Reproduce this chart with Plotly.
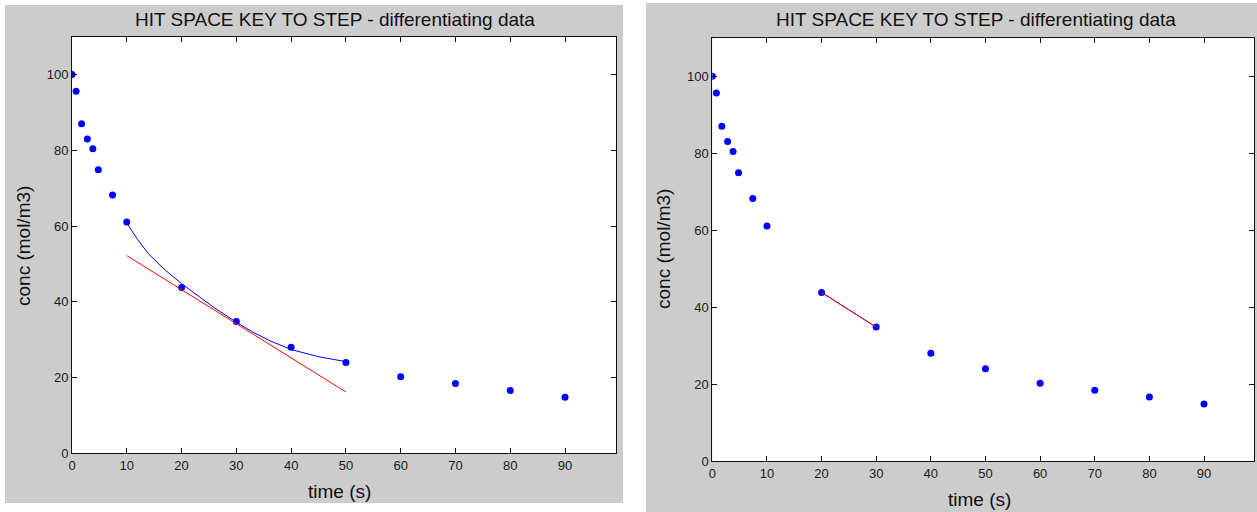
import plotly.graph_objects as go

W, H = 1257, 512

# ---- data ----
times = [0, 0.75, 1.75, 2.8, 3.8, 4.8, 7.4, 10, 20, 30, 40, 50, 60, 70, 80, 90]
conc = [100, 95.6, 87.0, 83.0, 80.4, 74.9, 68.2, 61.1, 43.8, 34.8, 28.0, 24.0, 20.2, 18.4, 16.6, 14.8]

# left panel: fitted curve over 10..50 s and tangent at 30 s
fit1_t = [10, 12, 14, 17, 20, 23, 26, 30, 33, 36, 40, 45, 50]
fit1_c = [60.8, 56.4, 52.6, 48.4, 44.8, 41.5, 38.4, 34.6, 32.0, 29.8, 27.4, 25.5, 24.2]
tan1_t = [10, 50]
tan1_c = [52.2, 16.2]

# right panel: fitted segment over 20..30 s and tangent
fit2_t = [20, 25, 30]
fit2_c = [43.8, 39.2, 34.8]
tan2_t = [20, 30]
tan2_c = [43.8, 34.8]

x_ticks = [0, 10, 20, 30, 40, 50, 60, 70, 80, 90]
y_ticks = [0, 20, 40, 60, 80, 100]
title_text = "HIT SPACE KEY TO STEP - differentiating data"
xlabel = "time (s)"
ylabel = "conc (mol/m3)"


def px(x):
    return x / W


def py(y):
    return 1 - y / H


fig = go.Figure()

panels = [
    dict(xa="x", ya="y", fit_t=fit1_t, fit_c=fit1_c, tan_t=tan1_t, tan_c=tan1_c),
    dict(xa="x2", ya="y2", fit_t=fit2_t, fit_c=fit2_c, tan_t=tan2_t, tan_c=tan2_c),
]

for p in panels:
    fig.add_trace(go.Scatter(x=times, y=conc, mode="markers", xaxis=p["xa"], yaxis=p["ya"],
                             marker=dict(color="#0000ff", size=7), showlegend=False, hoverinfo="skip"))
    fig.add_trace(go.Scatter(x=p["fit_t"], y=p["fit_c"], mode="lines", xaxis=p["xa"], yaxis=p["ya"],
                             line=dict(color="#0000ff", width=1), showlegend=False, hoverinfo="skip"))
    fig.add_trace(go.Scatter(x=p["tan_t"], y=p["tan_c"], mode="lines", xaxis=p["xa"], yaxis=p["ya"],
                             line=dict(color="#ff0000", width=1), showlegend=False, hoverinfo="skip"))

axis_common = dict(
    showgrid=False, zeroline=False, showline=True, linecolor="#111111", linewidth=1,
    mirror="ticks", ticks="inside", ticklen=5, tickcolor="#111111", tickwidth=1,
    tickfont=dict(family="Liberation Sans, Arial, sans-serif", size=13, color="#1a1a1a"),
    fixedrange=True, automargin=False,
)

# pixel geometry of the two axes boxes
L = dict(x0=72, x1=616, y0=36.7, y1=453.3)
R = dict(x0=712.3, x1=1254.3, y0=37.7, y1=461)

fig.update_layout(
    template="none",
    width=W, height=H, autosize=False,
    margin=dict(l=0, r=0, t=0, b=0, pad=0),
    paper_bgcolor="white", plot_bgcolor="white",
    xaxis=dict(domain=[px(L["x0"]), px(L["x1"])], range=[0, 99.3], tickvals=x_ticks, anchor="y", **axis_common),
    yaxis=dict(domain=[py(L["y1"]), py(L["y0"])], range=[0, 110], tickvals=y_ticks, anchor="x", **axis_common),
    xaxis2=dict(domain=[px(R["x0"]), px(R["x1"])], range=[0, 99.2], tickvals=x_ticks, anchor="y2", **axis_common),
    yaxis2=dict(domain=[py(R["y1"]), py(R["y0"])], range=[0, 110], tickvals=y_ticks, anchor="x2", **axis_common),
)

shapes = [
    dict(type="rect", xref="paper", yref="paper", x0=px(5), x1=px(623), y0=py(503), y1=py(5),
         fillcolor="#cccccc", line=dict(width=0), layer="below"),
    dict(type="rect", xref="paper", yref="paper", x0=px(646), x1=px(1257), y0=py(512), y1=py(3),
         fillcolor="#cccccc", line=dict(width=0), layer="below"),
    dict(type="rect", xref="x domain", yref="y domain", x0=0, x1=1, y0=0, y1=1,
         fillcolor="white", line=dict(width=0), layer="below"),
    dict(type="rect", xref="x2 domain", yref="y2 domain", x0=0, x1=1, y0=0, y1=1,
         fillcolor="white", line=dict(width=0), layer="below"),
]
fig.update_layout(shapes=shapes)

font_main = dict(family="Liberation Sans, Arial, sans-serif", size=19, color="#111111")
annots = []
for (tx, ty), (xx, xy), (yx, yy) in [
    ((335, 19.5), (339, 491.5), (23, 246)),
    ((976, 19.5), (979, 499), (663, 249)),
]:
    annots.append(dict(text=title_text, x=px(tx), y=py(ty), xref="paper", yref="paper",
                       xanchor="center", yanchor="middle", showarrow=False, font=font_main))
    annots.append(dict(text=xlabel, x=px(xx), y=py(xy), xref="paper", yref="paper",
                       xanchor="center", yanchor="middle", showarrow=False, font=font_main))
    annots.append(dict(text=ylabel, x=px(yx), y=py(yy), xref="paper", yref="paper",
                       xanchor="center", yanchor="middle", showarrow=False, textangle=-90, font=font_main))
fig.update_layout(annotations=annots)

post = ("document.documentElement.style.margin='0';document.documentElement.style.padding='0';"
        "document.body.style.margin='0';document.body.style.padding='0';"
        "document.body.style.overflow='hidden';document.documentElement.style.overflow='hidden';"
        "var gd=document.getElementById('{plot_id}');gd.style.position='fixed';"
        "gd.style.left='0px';gd.style.top='0px';")

fig.write_html("out.html", post_script=post, config={"displayModeBar": False, "responsive": False})
